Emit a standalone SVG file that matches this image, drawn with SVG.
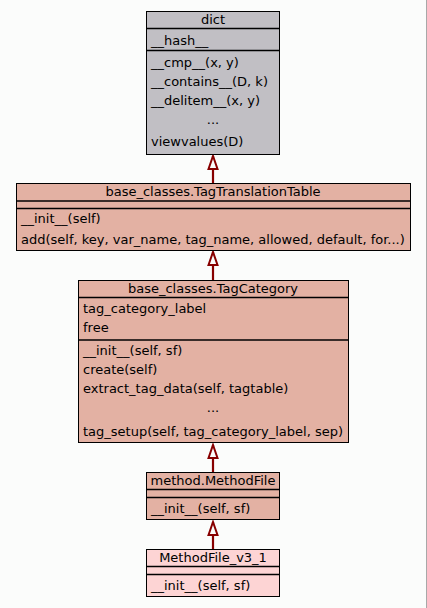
<svg xmlns="http://www.w3.org/2000/svg" width="427" height="608" viewBox="0 0 427 608">
<defs>
<style>
text{font-family:"DejaVu Sans","Liberation Sans",sans-serif;font-size:13px;fill:#000}
.c{text-anchor:middle}
.box{stroke:#000;stroke-width:1}
.sep{stroke:#000;stroke-width:1.4}
.gray{fill:#c1bfc4}
.salmon{fill:#e3b1a3}
.pink{fill:#fdd4d4}
.edge{stroke:#870000;stroke-width:2.2;fill:none}
</style>
<marker id="inh" markerUnits="userSpaceOnUse" viewBox="-2 -7 17 14" refX="13" refY="0" markerWidth="17" markerHeight="14" orient="auto" overflow="visible">
<path d="M0,-4.5 L13,0 L0,4.5 Z" fill="#fbfcfb" stroke="#870000" stroke-width="2"/>
</marker>
</defs>
<rect x="0" y="0" width="427" height="608" fill="#fbfcfb"/>
<line x1="426.5" y1="0" x2="426.5" y2="608" stroke="#a8a8a8" stroke-width="1"/>

<g id="connectors">
<path class="edge" d="M213,183 L213,156" marker-end="url(#inh)"/>
<path class="edge" d="M213,280 L213,252" marker-end="url(#inh)"/>
<path class="edge" d="M213,472 L213,445" marker-end="url(#inh)"/>
<path class="edge" d="M213,549 L213,522" marker-end="url(#inh)"/>
</g>

<g id="dict">
<rect class="box gray" x="146.5" y="11.5" width="133" height="143"/>
<line class="sep" x1="146.5" y1="28.5" x2="279.5" y2="28.5"/>
<line class="sep" x1="146.5" y1="50.5" x2="279.5" y2="50.5"/>
<text class="c" x="213" y="24">dict</text>
<text x="151" y="45">__hash__</text>
<text x="151" y="67">__cmp__(x, y)</text>
<text x="151" y="86">__contains__(D, k)</text>
<text x="151" y="105">__delitem__(x, y)</text>
<text class="c" x="213" y="124">...</text>
<text x="151" y="146">viewvalues(D)</text>
</g>

<g id="TagTranslationTable">
<rect class="box salmon" x="16.5" y="183.5" width="394" height="67"/>
<line class="sep" x1="16.5" y1="201" x2="410.5" y2="201"/>
<line class="sep" x1="16.5" y1="208.5" x2="410.5" y2="208.5"/>
<text class="c" x="213" y="196">base_classes.TagTranslationTable</text>
<text x="21" y="223">__init__(self)</text>
<text x="21" y="244">add(self, key, var_name, tag_name, allowed, default, for...)</text>
</g>

<g id="TagCategory">
<rect class="box salmon" x="78.5" y="280.5" width="270" height="162"/>
<line class="sep" x1="78.5" y1="297.5" x2="348.5" y2="297.5"/>
<line class="sep" x1="78.5" y1="340" x2="348.5" y2="340"/>
<text class="c" x="213" y="293">base_classes.TagCategory</text>
<text x="83" y="313">tag_category_label</text>
<text x="83" y="332">free</text>
<text x="83" y="355">__init__(self, sf)</text>
<text x="83" y="374">create(self)</text>
<text x="83" y="393">extract_tag_data(self, tagtable)</text>
<text class="c" x="213" y="412">...</text>
<text x="83" y="436">tag_setup(self, tag_category_label, sep)</text>
</g>

<g id="MethodFile">
<rect class="box salmon" x="146.5" y="472.5" width="133" height="47" stroke="#333"/>
<line class="sep" x1="146.5" y1="489.5" x2="279.5" y2="489.5"/>
<line class="sep" x1="146.5" y1="497.5" x2="279.5" y2="497.5"/>
<text class="c" x="213" y="485">method.MethodFile</text>
<text x="151" y="513">__init__(self, sf)</text>
</g>

<g id="MethodFile_v3_1">
<rect class="box pink" x="146.5" y="549.5" width="133" height="47" stroke="#333"/>
<line class="sep" x1="146.5" y1="566.5" x2="279.5" y2="566.5"/>
<line class="sep" x1="146.5" y1="574.5" x2="279.5" y2="574.5"/>
<text class="c" x="213" y="562">MethodFile_v3_1</text>
<text x="151" y="590">__init__(self, sf)</text>
</g>
</svg>
